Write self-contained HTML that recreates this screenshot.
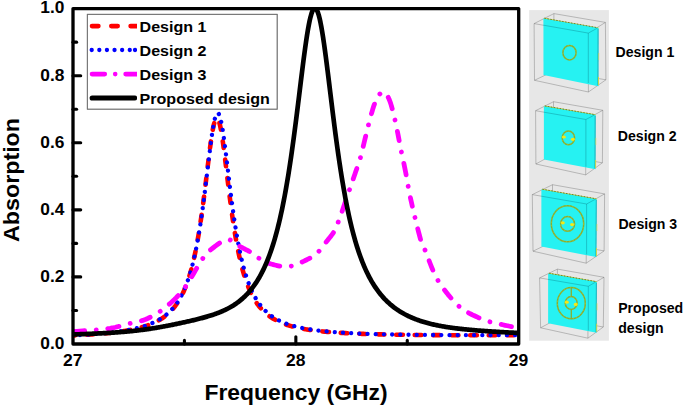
<!DOCTYPE html>
<html><head><meta charset="utf-8"><title>Absorption vs Frequency</title>
<style>
html,body{margin:0;padding:0;background:#fff;}
body{width:685px;height:405px;overflow:hidden;font-family:"Liberation Sans",sans-serif;}
svg{display:block;}
text{font-family:"Liberation Sans",sans-serif;font-weight:bold;fill:#000;}
.tk{font-size:17px;}
.lg{font-size:15.3px;}
.ax{font-size:22.5px;}
.rl{font-size:14.1px;}
</style></head><body>
<svg width="685" height="405" viewBox="0 0 685 405">
<rect width="685" height="405" fill="#fff"/>
<defs><clipPath id="pc"><rect x="73.0" y="8.6" width="445.70000000000005" height="335.4"/></clipPath></defs>
<!-- legend -->
<rect x="87.4" y="14.4" width="189.7" height="94.7" fill="#fff" stroke="#707070" stroke-width="1"/>
<g clip-path="url(#pc)" fill="none" stroke-linejoin="round">
<path d="M73.00 335.54 L73.50 335.51 L73.99 335.49 L74.49 335.46 L74.98 335.44 L75.48 335.41 L75.97 335.39 L76.47 335.36 L76.97 335.34 L77.46 335.31 L77.96 335.28 L78.45 335.26 L78.95 335.23 L79.45 335.20 L79.94 335.18 L80.44 335.15 L80.93 335.12 L81.43 335.09 L81.92 335.07 L82.42 335.04 L82.92 335.01 L83.41 334.98 L83.91 334.95 L84.40 334.92 L84.90 334.89 L85.39 334.86 L85.89 334.83 L86.39 334.80 L86.88 334.77 L87.38 334.74 L87.87 334.70 L88.37 334.67 L88.86 334.64 L89.36 334.61 L89.86 334.57 L90.35 334.54 L90.85 334.51 L91.34 334.47 L91.84 334.44 L92.34 334.40 L92.83 334.37 L93.33 334.33 L93.82 334.29 L94.32 334.26 L94.81 334.22 L95.31 334.18 L95.81 334.15 L96.30 334.11 L96.80 334.07 L97.29 334.03 L97.79 333.99 L98.28 333.95 L98.78 333.91 L99.28 333.87 L99.77 333.83 L100.27 333.79 L100.76 333.75 L101.26 333.70 L101.75 333.66 L102.25 333.62 L102.75 333.57 L103.24 333.53 L103.74 333.48 L104.23 333.44 L104.73 333.39 L105.23 333.34 L105.72 333.29 L106.22 333.25 L106.71 333.20 L107.21 333.15 L107.70 333.10 L108.20 333.05 L108.70 333.00 L109.19 332.95 L109.69 332.89 L110.18 332.84 L110.68 332.79 L111.17 332.73 L111.67 332.68 L112.17 332.62 L112.66 332.56 L113.16 332.51 L113.65 332.45 L114.15 332.39 L114.64 332.33 L115.14 332.27 L115.64 332.21 L116.13 332.15 L116.63 332.08 L117.12 332.02 L117.62 331.95 L118.12 331.89 L118.61 331.82 L119.11 331.75 L119.60 331.69 L120.10 331.62 L120.59 331.55 L121.09 331.47 L121.59 331.40 L122.08 331.33 L122.58 331.25 L123.07 331.18 L123.57 331.10 L124.06 331.02 L124.56 330.95 L125.06 330.87 L125.55 330.78 L126.05 330.70 L126.54 330.62 L127.04 330.53 L127.54 330.45 L128.03 330.36 L128.53 330.27 L129.02 330.18 L129.52 330.09 L130.01 329.99 L130.51 329.90 L131.01 329.80 L131.50 329.70 L132.00 329.60 L132.49 329.50 L132.99 329.40 L133.48 329.30 L133.98 329.19 L134.48 329.08 L134.97 328.97 L135.47 328.86 L135.96 328.75 L136.46 328.63 L136.95 328.51 L137.45 328.39 L137.95 328.27 L138.44 328.15 L138.94 328.02 L139.43 327.89 L139.93 327.76 L140.43 327.63 L140.92 327.50 L141.42 327.36 L141.91 327.22 L142.41 327.08 L142.90 326.93 L143.40 326.78 L143.90 326.63 L144.39 326.48 L144.89 326.32 L145.38 326.16 L145.88 326.00 L146.37 325.84 L146.87 325.67 L147.37 325.50 L147.86 325.32 L148.36 325.14 L148.85 324.96 L149.35 324.77 L149.84 324.58 L150.34 324.39 L150.84 324.19 L151.33 323.99 L151.83 323.79 L152.32 323.58 L152.82 323.36 L153.32 323.14 L153.81 322.92 L154.31 322.69 L154.80 322.46 L155.30 322.22 L155.79 321.98 L156.29 321.73 L156.79 321.47 L157.28 321.21 L157.78 320.95 L158.27 320.67 L158.77 320.40 L159.26 320.11 L159.76 319.82 L160.26 319.52 L160.75 319.22 L161.25 318.91 L161.74 318.59 L162.24 318.26 L162.73 317.93 L163.23 317.58 L163.73 317.23 L164.22 316.87 L164.72 316.51 L165.21 316.13 L165.71 315.74 L166.21 315.34 L166.70 314.94 L167.20 314.52 L167.69 314.09 L168.19 313.65 L168.68 313.20 L169.18 312.74 L169.68 312.26 L170.17 311.78 L170.67 311.27 L171.16 310.76 L171.66 310.23 L172.15 309.69 L172.65 309.13 L173.15 308.56 L173.64 307.96 L174.14 307.36 L174.63 306.73 L175.13 306.09 L175.63 305.43 L176.12 304.75 L176.62 304.05 L177.11 303.33 L177.61 302.59 L178.10 301.82 L178.60 301.03 L179.10 300.22 L179.59 299.38 L180.09 298.52 L180.58 297.63 L181.08 296.71 L181.57 295.77 L182.07 294.79 L182.57 293.78 L183.06 292.74 L183.56 291.67 L184.05 290.56 L184.55 289.41 L185.04 288.23 L185.54 287.01 L186.04 285.74 L186.53 284.44 L187.03 283.09 L187.52 281.70 L188.02 280.25 L188.52 278.76 L189.01 277.22 L189.51 275.63 L190.00 273.98 L190.50 272.27 L190.99 270.51 L191.49 268.68 L191.99 266.79 L192.48 264.84 L192.98 262.82 L193.47 260.73 L193.97 258.56 L194.46 256.33 L194.96 254.01 L195.46 251.62 L195.95 249.15 L196.45 246.60 L196.94 243.96 L197.44 241.23 L197.93 238.42 L198.43 235.52 L198.93 232.53 L199.42 229.45 L199.92 226.27 L200.41 223.01 L200.91 219.66 L201.41 216.21 L201.90 212.68 L202.40 209.06 L202.89 205.36 L203.39 201.59 L203.88 197.74 L204.38 193.82 L204.88 189.84 L205.37 185.82 L205.87 181.75 L206.36 177.66 L206.86 173.55 L207.35 169.43 L207.85 165.33 L208.35 161.27 L208.84 157.25 L209.34 153.30 L209.83 149.45 L210.33 145.71 L210.82 142.12 L211.32 138.68 L211.82 135.43 L212.31 132.40 L212.81 129.60 L213.30 127.05 L213.80 124.79 L214.30 122.83 L214.79 121.19 L215.29 119.89 L215.78 118.93 L216.28 118.33 L216.77 118.09 L217.27 118.21 L217.77 118.70 L218.26 119.54 L218.76 120.74 L219.25 122.27 L219.75 124.13 L220.24 126.29 L220.74 128.75 L221.24 131.46 L221.73 134.42 L222.23 137.61 L222.72 140.98 L223.22 144.53 L223.72 148.22 L224.21 152.03 L224.71 155.95 L225.20 159.94 L225.70 163.98 L226.19 168.07 L226.69 172.17 L227.19 176.28 L227.68 180.38 L228.18 184.45 L228.67 188.48 L229.17 192.47 L229.66 196.40 L230.16 200.26 L230.66 204.05 L231.15 207.77 L231.65 211.41 L232.14 214.96 L232.64 218.43 L233.13 221.80 L233.63 225.09 L234.13 228.28 L234.62 231.39 L235.12 234.40 L235.61 237.32 L236.11 240.15 L236.61 242.90 L237.10 245.56 L237.60 248.13 L238.09 250.62 L238.59 253.03 L239.08 255.36 L239.58 257.62 L240.08 259.80 L240.57 261.90 L241.07 263.94 L241.56 265.91 L242.06 267.81 L242.55 269.65 L243.05 271.43 L243.55 273.14 L244.04 274.80 L244.54 276.41 L245.03 277.96 L245.53 279.46 L246.02 280.91 L246.52 282.31 L247.02 283.67 L247.51 284.98 L248.01 286.25 L248.50 287.48 L249.00 288.67 L249.50 289.82 L249.99 290.93 L250.49 292.01 L250.98 293.06 L251.48 294.07 L251.97 295.05 L252.47 296.00 L252.97 296.92 L253.46 297.81 L253.96 298.68 L254.45 299.52 L254.95 300.33 L255.44 301.12 L255.94 301.88 L256.44 302.63 L256.93 303.35 L257.43 304.05 L257.92 304.73 L258.42 305.39 L258.91 306.03 L259.41 306.66 L259.91 307.26 L260.40 307.85 L260.90 308.43 L261.39 308.98 L261.89 309.52 L262.39 310.05 L262.88 310.56 L263.38 311.06 L263.87 311.55 L264.37 312.02 L264.86 312.48 L265.36 312.93 L265.86 313.37 L266.35 313.79 L266.85 314.21 L267.34 314.61 L267.84 315.01 L268.33 315.39 L268.83 315.77 L269.33 316.13 L269.82 316.49 L270.32 316.84 L270.81 317.17 L271.31 317.51 L271.81 317.83 L272.30 318.14 L272.80 318.45 L273.29 318.75 L273.79 319.05 L274.28 319.33 L274.78 319.61 L275.28 319.89 L275.77 320.16 L276.27 320.42 L276.76 320.67 L277.26 320.92 L277.75 321.17 L278.25 321.41 L278.75 321.64 L279.24 321.87 L279.74 322.09 L280.23 322.31 L280.73 322.53 L281.22 322.74 L281.72 322.94 L282.22 323.14 L282.71 323.34 L283.21 323.53 L283.70 323.72 L284.20 323.91 L284.70 324.09 L285.19 324.26 L285.69 324.44 L286.18 324.61 L286.68 324.78 L287.17 324.94 L287.67 325.10 L288.17 325.26 L288.66 325.41 L289.16 325.56 L289.65 325.71 L290.15 325.86 L290.64 326.00 L291.14 326.14 L291.64 326.28 L292.13 326.41 L292.63 326.54 L293.12 326.67 L293.62 326.80 L294.11 326.93 L294.61 327.05 L295.11 327.17 L295.60 327.29 L296.10 327.40 L296.59 327.52 L297.09 327.63 L297.59 327.74 L298.08 327.85 L298.58 327.95 L299.07 328.06 L299.57 328.16 L300.06 328.26 L300.56 328.36 L301.06 328.46 L301.55 328.55 L302.05 328.65 L302.54 328.74 L303.04 328.83 L303.53 328.92 L304.03 329.01 L304.53 329.09 L305.02 329.18 L305.52 329.26 L306.01 329.35 L306.51 329.43 L307.00 329.51 L307.50 329.58 L308.00 329.66 L308.49 329.74 L308.99 329.81 L309.48 329.89 L309.98 329.96 L310.48 330.03 L310.97 330.10 L311.47 330.17 L311.96 330.24 L312.46 330.30 L312.95 330.37 L313.45 330.43 L313.95 330.50 L314.44 330.56 L314.94 330.62 L315.43 330.68 L315.93 330.74 L316.42 330.80 L316.92 330.86 L317.42 330.92 L317.91 330.97 L318.41 331.03 L318.90 331.08 L319.40 331.14 L319.89 331.19 L320.39 331.24 L320.89 331.29 L321.38 331.34 L321.88 331.39 L322.37 331.44 L322.87 331.49 L323.37 331.54 L323.86 331.59 L324.36 331.64 L324.85 331.68 L325.35 331.73 L325.84 331.77 L326.34 331.82 L326.84 331.86 L327.33 331.90 L327.83 331.94 L328.32 331.99 L328.82 332.03 L329.31 332.07 L329.81 332.11 L330.31 332.15 L330.80 332.19 L331.30 332.22 L331.79 332.26 L332.29 332.30 L332.79 332.34 L333.28 332.37 L333.78 332.41 L334.27 332.44 L334.77 332.48 L335.26 332.51 L335.76 332.55 L336.26 332.58 L336.75 332.61 L337.25 332.65 L337.74 332.68 L338.24 332.71 L338.73 332.74 L339.23 332.77 L339.73 332.80 L340.22 332.83 L340.72 332.86 L341.21 332.89 L341.71 332.92 L342.20 332.95 L342.70 332.98 L343.20 333.01 L343.69 333.04 L344.19 333.06 L344.68 333.09 L345.18 333.12 L345.68 333.14 L346.17 333.17 L346.67 333.19 L347.16 333.22 L347.66 333.24 L348.15 333.27 L348.65 333.29 L349.15 333.32 L349.64 333.34 L350.14 333.37 L350.63 333.39 L351.13 333.41 L351.62 333.43 L352.12 333.46 L352.62 333.48 L353.11 333.50 L353.61 333.52 L354.10 333.54 L354.60 333.56 L355.09 333.58 L355.59 333.61 L356.09 333.63 L356.58 333.65 L357.08 333.67 L357.57 333.69 L358.07 333.70 L358.57 333.72 L359.06 333.74 L359.56 333.76 L360.05 333.78 L360.55 333.80 L361.04 333.82 L361.54 333.83 L362.04 333.85 L362.53 333.87 L363.03 333.89 L363.52 333.90 L364.02 333.92 L364.51 333.94 L365.01 333.95 L365.51 333.97 L366.00 333.99 L366.50 334.00 L366.99 334.02 L367.49 334.03 L367.98 334.05 L368.48 334.06 L368.98 334.08 L369.47 334.09 L369.97 334.11 L370.46 334.12 L370.96 334.14 L371.46 334.15 L371.95 334.16 L372.45 334.18 L372.94 334.19 L373.44 334.20 L373.93 334.22 L374.43 334.23 L374.93 334.24 L375.42 334.26 L375.92 334.27 L376.41 334.28 L376.91 334.29 L377.40 334.31 L377.90 334.32 L378.40 334.33 L378.89 334.34 L379.39 334.36 L379.88 334.37 L380.38 334.38 L380.88 334.39 L381.37 334.40 L381.87 334.41 L382.36 334.42 L382.86 334.43 L383.35 334.44 L383.85 334.46 L384.35 334.47 L384.84 334.48 L385.34 334.49 L385.83 334.50 L386.33 334.51 L386.82 334.52 L387.32 334.53 L387.82 334.54 L388.31 334.55 L388.81 334.56 L389.30 334.56 L389.80 334.57 L390.29 334.58 L390.79 334.59 L391.29 334.60 L391.78 334.61 L392.28 334.62 L392.77 334.63 L393.27 334.64 L393.77 334.64 L394.26 334.65 L394.76 334.66 L395.25 334.67 L395.75 334.68 L396.24 334.69 L396.74 334.69 L397.24 334.70 L397.73 334.71 L398.23 334.72 L398.72 334.72 L399.22 334.73 L399.71 334.74 L400.21 334.75 L400.71 334.75 L401.20 334.76 L401.70 334.77 L402.19 334.78 L402.69 334.78 L403.18 334.79 L403.68 334.80 L404.18 334.80 L404.67 334.81 L405.17 334.82 L405.66 334.82 L406.16 334.83 L406.66 334.83 L407.15 334.84 L407.65 334.85 L408.14 334.85 L408.64 334.86 L409.13 334.87 L409.63 334.87 L410.13 334.88 L410.62 334.88 L411.12 334.89 L411.61 334.89 L412.11 334.90 L412.60 334.91 L413.10 334.91 L413.60 334.92 L414.09 334.92 L414.59 334.93 L415.08 334.93 L415.58 334.94 L416.07 334.94 L416.57 334.95 L417.07 334.95 L417.56 334.96 L418.06 334.96 L418.55 334.97 L419.05 334.97 L419.55 334.98 L420.04 334.98 L420.54 334.99 L421.03 334.99 L421.53 334.99 L422.02 335.00 L422.52 335.00 L423.02 335.01 L423.51 335.01 L424.01 335.02 L424.50 335.02 L425.00 335.02 L425.49 335.03 L425.99 335.03 L426.49 335.04 L426.98 335.04 L427.48 335.04 L427.97 335.05 L428.47 335.05 L428.97 335.05 L429.46 335.06 L429.96 335.06 L430.45 335.07 L430.95 335.07 L431.44 335.07 L431.94 335.08 L432.44 335.08 L432.93 335.08 L433.43 335.09 L433.92 335.09 L434.42 335.09 L434.91 335.10 L435.41 335.10 L435.91 335.10 L436.40 335.11 L436.90 335.11 L437.39 335.11 L437.89 335.11 L438.38 335.12 L438.88 335.12 L439.38 335.12 L439.87 335.13 L440.37 335.13 L440.86 335.13 L441.36 335.13 L441.86 335.14 L442.35 335.14 L442.85 335.14 L443.34 335.14 L443.84 335.15 L444.33 335.15 L444.83 335.15 L445.33 335.15 L445.82 335.16 L446.32 335.16 L446.81 335.16 L447.31 335.16 L447.80 335.16 L448.30 335.17 L448.80 335.17 L449.29 335.17 L449.79 335.17 L450.28 335.18 L450.78 335.18 L451.27 335.18 L451.77 335.18 L452.27 335.18 L452.76 335.19 L453.26 335.19 L453.75 335.19 L454.25 335.19 L454.75 335.19 L455.24 335.19 L455.74 335.20 L456.23 335.20 L456.73 335.20 L457.22 335.20 L457.72 335.20 L458.22 335.20 L458.71 335.21 L459.21 335.21 L459.70 335.21 L460.20 335.21 L460.69 335.21 L461.19 335.21 L461.69 335.21 L462.18 335.22 L462.68 335.22 L463.17 335.22 L463.67 335.22 L464.16 335.22 L464.66 335.22 L465.16 335.22 L465.65 335.22 L466.15 335.23 L466.64 335.23 L467.14 335.23 L467.64 335.23 L468.13 335.23 L468.63 335.23 L469.12 335.23 L469.62 335.23 L470.11 335.23 L470.61 335.23 L471.11 335.24 L471.60 335.24 L472.10 335.24 L472.59 335.24 L473.09 335.24 L473.58 335.24 L474.08 335.24 L474.58 335.24 L475.07 335.24 L475.57 335.24 L476.06 335.24 L476.56 335.24 L477.06 335.24 L477.55 335.25 L478.05 335.25 L478.54 335.25 L479.04 335.25 L479.53 335.25 L480.03 335.25 L480.53 335.25 L481.02 335.25 L481.52 335.25 L482.01 335.25 L482.51 335.25 L483.00 335.25 L483.50 335.25 L484.00 335.25 L484.49 335.25 L484.99 335.25 L485.48 335.25 L485.98 335.25 L486.47 335.25 L486.97 335.25 L487.47 335.25 L487.96 335.25 L488.46 335.25 L488.95 335.25 L489.45 335.25 L489.95 335.26 L490.44 335.26 L490.94 335.26 L491.43 335.26 L491.93 335.26 L492.42 335.26 L492.92 335.26 L493.42 335.26 L493.91 335.26 L494.41 335.26 L494.90 335.26 L495.40 335.26 L495.89 335.26 L496.39 335.26 L496.89 335.26 L497.38 335.26 L497.88 335.26 L498.37 335.26 L498.87 335.26 L499.36 335.26 L499.86 335.25 L500.36 335.25 L500.85 335.25 L501.35 335.25 L501.84 335.25 L502.34 335.25 L502.84 335.25 L503.33 335.25 L503.83 335.25 L504.32 335.25 L504.82 335.25 L505.31 335.25 L505.81 335.25 L506.31 335.25 L506.80 335.25 L507.30 335.25 L507.79 335.25 L508.29 335.25 L508.78 335.25 L509.28 335.25 L509.78 335.25 L510.27 335.25 L510.77 335.25 L511.26 335.25 L511.76 335.25 L512.25 335.25 L512.75 335.25 L513.25 335.25 L513.74 335.25 L514.24 335.24 L514.73 335.24 L515.23 335.24 L515.73 335.24 L516.22 335.24 L516.72 335.24 L517.21 335.24 L517.71 335.24 L518.20 335.24 L518.70 335.24" stroke="#ff0000" stroke-width="4.6" stroke-dasharray="6.7 11.8" stroke-dashoffset="4.61" stroke-linecap="round"/>
<path d="M73.00 335.40 L73.50 335.37 L73.99 335.35 L74.49 335.32 L74.98 335.29 L75.48 335.27 L75.97 335.24 L76.47 335.22 L76.97 335.19 L77.46 335.16 L77.96 335.14 L78.45 335.11 L78.95 335.08 L79.45 335.05 L79.94 335.02 L80.44 335.00 L80.93 334.97 L81.43 334.94 L81.92 334.91 L82.42 334.88 L82.92 334.85 L83.41 334.82 L83.91 334.79 L84.40 334.76 L84.90 334.73 L85.39 334.70 L85.89 334.66 L86.39 334.63 L86.88 334.60 L87.38 334.57 L87.87 334.54 L88.37 334.50 L88.86 334.47 L89.36 334.43 L89.86 334.40 L90.35 334.37 L90.85 334.33 L91.34 334.30 L91.84 334.26 L92.34 334.22 L92.83 334.19 L93.33 334.15 L93.82 334.11 L94.32 334.07 L94.81 334.04 L95.31 334.00 L95.81 333.96 L96.30 333.92 L96.80 333.88 L97.29 333.84 L97.79 333.80 L98.28 333.76 L98.78 333.72 L99.28 333.67 L99.77 333.63 L100.27 333.59 L100.76 333.55 L101.26 333.50 L101.75 333.46 L102.25 333.41 L102.75 333.37 L103.24 333.32 L103.74 333.27 L104.23 333.23 L104.73 333.18 L105.23 333.13 L105.72 333.08 L106.22 333.03 L106.71 332.98 L107.21 332.93 L107.70 332.88 L108.20 332.83 L108.70 332.77 L109.19 332.72 L109.69 332.67 L110.18 332.61 L110.68 332.56 L111.17 332.50 L111.67 332.44 L112.17 332.39 L112.66 332.33 L113.16 332.27 L113.65 332.21 L114.15 332.15 L114.64 332.09 L115.14 332.02 L115.64 331.96 L116.13 331.90 L116.63 331.83 L117.12 331.77 L117.62 331.70 L118.12 331.63 L118.61 331.56 L119.11 331.49 L119.60 331.42 L120.10 331.35 L120.59 331.28 L121.09 331.21 L121.59 331.13 L122.08 331.06 L122.58 330.98 L123.07 330.90 L123.57 330.82 L124.06 330.74 L124.56 330.66 L125.06 330.58 L125.55 330.50 L126.05 330.41 L126.54 330.32 L127.04 330.24 L127.54 330.15 L128.03 330.06 L128.53 329.97 L129.02 329.87 L129.52 329.78 L130.01 329.68 L130.51 329.59 L131.01 329.49 L131.50 329.39 L132.00 329.28 L132.49 329.18 L132.99 329.08 L133.48 328.97 L133.98 328.86 L134.48 328.75 L134.97 328.64 L135.47 328.52 L135.96 328.41 L136.46 328.29 L136.95 328.17 L137.45 328.05 L137.95 327.92 L138.44 327.79 L138.94 327.67 L139.43 327.53 L139.93 327.40 L140.43 327.27 L140.92 327.13 L141.42 326.99 L141.91 326.84 L142.41 326.70 L142.90 326.55 L143.40 326.40 L143.90 326.25 L144.39 326.09 L144.89 325.93 L145.38 325.77 L145.88 325.60 L146.37 325.43 L146.87 325.26 L147.37 325.08 L147.86 324.91 L148.36 324.72 L148.85 324.54 L149.35 324.35 L149.84 324.16 L150.34 323.96 L150.84 323.76 L151.33 323.55 L151.83 323.34 L152.32 323.13 L152.82 322.91 L153.32 322.69 L153.81 322.46 L154.31 322.23 L154.80 321.99 L155.30 321.75 L155.79 321.50 L156.29 321.25 L156.79 320.99 L157.28 320.73 L157.78 320.46 L158.27 320.19 L158.77 319.90 L159.26 319.62 L159.76 319.32 L160.26 319.02 L160.75 318.71 L161.25 318.40 L161.74 318.07 L162.24 317.74 L162.73 317.41 L163.23 317.06 L163.73 316.71 L164.22 316.34 L164.72 315.97 L165.21 315.59 L165.71 315.20 L166.21 314.80 L166.70 314.39 L167.20 313.97 L167.69 313.54 L168.19 313.10 L168.68 312.64 L169.18 312.18 L169.68 311.70 L170.17 311.21 L170.67 310.71 L171.16 310.19 L171.66 309.66 L172.15 309.12 L172.65 308.56 L173.15 307.98 L173.64 307.39 L174.14 306.79 L174.63 306.16 L175.13 305.52 L175.63 304.86 L176.12 304.18 L176.62 303.48 L177.11 302.76 L177.61 302.02 L178.10 301.26 L178.60 300.48 L179.10 299.67 L179.59 298.84 L180.09 297.98 L180.58 297.10 L181.08 296.18 L181.57 295.25 L182.07 294.28 L182.57 293.28 L183.06 292.25 L183.56 291.18 L184.05 290.09 L184.55 288.96 L185.04 287.79 L185.54 286.58 L186.04 285.34 L186.53 284.05 L187.03 282.72 L187.52 281.35 L188.02 279.93 L188.52 278.46 L189.01 276.95 L189.51 275.38 L190.00 273.76 L190.50 272.09 L190.99 270.36 L191.49 268.57 L191.99 266.72 L192.48 264.81 L192.98 262.83 L193.47 260.79 L193.97 258.68 L194.46 256.49 L194.96 254.23 L195.46 251.90 L195.95 249.49 L196.45 247.00 L196.94 244.42 L197.44 241.77 L197.93 239.03 L198.43 236.20 L198.93 233.28 L199.42 230.28 L199.92 227.18 L200.41 224.00 L200.91 220.73 L201.41 217.36 L201.90 213.91 L202.40 210.37 L202.89 206.74 L203.39 203.04 L203.88 199.25 L204.38 195.39 L204.88 191.47 L205.37 187.48 L205.87 183.44 L206.36 179.36 L206.86 175.25 L207.35 171.12 L207.85 166.98 L208.35 162.85 L208.84 158.75 L209.34 154.68 L209.83 150.68 L210.33 146.77 L210.82 142.96 L211.32 139.27 L211.82 135.74 L212.31 132.38 L212.81 129.21 L213.30 126.27 L213.80 123.58 L214.30 121.15 L214.79 119.00 L215.29 117.17 L215.78 115.65 L216.28 114.47 L216.77 113.64 L217.27 113.17 L217.77 113.05 L218.26 113.29 L218.76 113.90 L219.25 114.85 L219.75 116.15 L220.24 117.78 L220.74 119.72 L221.24 121.97 L221.73 124.49 L222.23 127.28 L222.72 130.30 L223.22 133.53 L223.72 136.95 L224.21 140.54 L224.71 144.26 L225.20 148.11 L225.70 152.06 L226.19 156.07 L226.69 160.15 L227.19 164.26 L227.68 168.39 L228.18 172.52 L228.67 176.64 L229.17 180.74 L229.66 184.80 L230.16 188.81 L230.66 192.77 L231.15 196.66 L231.65 200.49 L232.14 204.24 L232.64 207.91 L233.13 211.50 L233.63 215.00 L234.13 218.42 L234.62 221.74 L235.12 224.98 L235.61 228.12 L236.11 231.18 L236.61 234.14 L237.10 237.02 L237.60 239.81 L238.09 242.51 L238.59 245.13 L239.08 247.67 L239.58 250.12 L240.08 252.50 L240.57 254.80 L241.07 257.02 L241.56 259.18 L242.06 261.26 L242.55 263.27 L243.05 265.22 L243.55 267.10 L244.04 268.92 L244.54 270.68 L245.03 272.38 L245.53 274.03 L246.02 275.62 L246.52 277.17 L247.02 278.66 L247.51 280.10 L248.01 281.49 L248.50 282.84 L249.00 284.15 L249.50 285.42 L249.99 286.64 L250.49 287.83 L250.98 288.98 L251.48 290.09 L251.97 291.17 L252.47 292.21 L252.97 293.23 L253.46 294.21 L253.96 295.16 L254.45 296.08 L254.95 296.98 L255.44 297.84 L255.94 298.69 L256.44 299.50 L256.93 300.30 L257.43 301.07 L257.92 301.81 L258.42 302.54 L258.91 303.25 L259.41 303.93 L259.91 304.60 L260.40 305.24 L260.90 305.87 L261.39 306.49 L261.89 307.08 L262.39 307.66 L262.88 308.22 L263.38 308.77 L263.87 309.30 L264.37 309.82 L264.86 310.33 L265.36 310.82 L265.86 311.30 L266.35 311.77 L266.85 312.22 L267.34 312.66 L267.84 313.10 L268.33 313.52 L268.83 313.93 L269.33 314.33 L269.82 314.72 L270.32 315.10 L270.81 315.47 L271.31 315.83 L271.81 316.19 L272.30 316.53 L272.80 316.87 L273.29 317.20 L273.79 317.52 L274.28 317.83 L274.78 318.14 L275.28 318.44 L275.77 318.73 L276.27 319.02 L276.76 319.30 L277.26 319.57 L277.75 319.84 L278.25 320.10 L278.75 320.35 L279.24 320.60 L279.74 320.85 L280.23 321.09 L280.73 321.32 L281.22 321.55 L281.72 321.78 L282.22 322.00 L282.71 322.21 L283.21 322.42 L283.70 322.63 L284.20 322.83 L284.70 323.03 L285.19 323.22 L285.69 323.41 L286.18 323.59 L286.68 323.78 L287.17 323.95 L287.67 324.13 L288.17 324.30 L288.66 324.47 L289.16 324.63 L289.65 324.80 L290.15 324.95 L290.64 325.11 L291.14 325.26 L291.64 325.41 L292.13 325.56 L292.63 325.70 L293.12 325.84 L293.62 325.98 L294.11 326.12 L294.61 326.25 L295.11 326.38 L295.60 326.51 L296.10 326.64 L296.59 326.76 L297.09 326.88 L297.59 327.00 L298.08 327.12 L298.58 327.24 L299.07 327.35 L299.57 327.46 L300.06 327.57 L300.56 327.68 L301.06 327.79 L301.55 327.89 L302.05 327.99 L302.54 328.09 L303.04 328.19 L303.53 328.29 L304.03 328.38 L304.53 328.48 L305.02 328.57 L305.52 328.66 L306.01 328.75 L306.51 328.84 L307.00 328.93 L307.50 329.01 L308.00 329.09 L308.49 329.18 L308.99 329.26 L309.48 329.34 L309.98 329.42 L310.48 329.49 L310.97 329.57 L311.47 329.64 L311.96 329.72 L312.46 329.79 L312.95 329.86 L313.45 329.93 L313.95 330.00 L314.44 330.07 L314.94 330.14 L315.43 330.20 L315.93 330.27 L316.42 330.33 L316.92 330.39 L317.42 330.46 L317.91 330.52 L318.41 330.58 L318.90 330.64 L319.40 330.70 L319.89 330.75 L320.39 330.81 L320.89 330.87 L321.38 330.92 L321.88 330.98 L322.37 331.03 L322.87 331.08 L323.37 331.13 L323.86 331.19 L324.36 331.24 L324.85 331.29 L325.35 331.34 L325.84 331.38 L326.34 331.43 L326.84 331.48 L327.33 331.53 L327.83 331.57 L328.32 331.62 L328.82 331.66 L329.31 331.71 L329.81 331.75 L330.31 331.79 L330.80 331.83 L331.30 331.88 L331.79 331.92 L332.29 331.96 L332.79 332.00 L333.28 332.04 L333.78 332.08 L334.27 332.11 L334.77 332.15 L335.26 332.19 L335.76 332.23 L336.26 332.26 L336.75 332.30 L337.25 332.33 L337.74 332.37 L338.24 332.40 L338.73 332.44 L339.23 332.47 L339.73 332.50 L340.22 332.54 L340.72 332.57 L341.21 332.60 L341.71 332.63 L342.20 332.66 L342.70 332.69 L343.20 332.73 L343.69 332.76 L344.19 332.78 L344.68 332.81 L345.18 332.84 L345.68 332.87 L346.17 332.90 L346.67 332.93 L347.16 332.96 L347.66 332.98 L348.15 333.01 L348.65 333.04 L349.15 333.06 L349.64 333.09 L350.14 333.11 L350.63 333.14 L351.13 333.16 L351.62 333.19 L352.12 333.21 L352.62 333.24 L353.11 333.26 L353.61 333.28 L354.10 333.31 L354.60 333.33 L355.09 333.35 L355.59 333.37 L356.09 333.40 L356.58 333.42 L357.08 333.44 L357.57 333.46 L358.07 333.48 L358.57 333.50 L359.06 333.52 L359.56 333.54 L360.05 333.56 L360.55 333.58 L361.04 333.60 L361.54 333.62 L362.04 333.64 L362.53 333.66 L363.03 333.68 L363.52 333.70 L364.02 333.72 L364.51 333.73 L365.01 333.75 L365.51 333.77 L366.00 333.79 L366.50 333.80 L366.99 333.82 L367.49 333.84 L367.98 333.85 L368.48 333.87 L368.98 333.89 L369.47 333.90 L369.97 333.92 L370.46 333.94 L370.96 333.95 L371.46 333.97 L371.95 333.98 L372.45 334.00 L372.94 334.01 L373.44 334.03 L373.93 334.04 L374.43 334.05 L374.93 334.07 L375.42 334.08 L375.92 334.10 L376.41 334.11 L376.91 334.12 L377.40 334.14 L377.90 334.15 L378.40 334.16 L378.89 334.18 L379.39 334.19 L379.88 334.20 L380.38 334.22 L380.88 334.23 L381.37 334.24 L381.87 334.25 L382.36 334.26 L382.86 334.28 L383.35 334.29 L383.85 334.30 L384.35 334.31 L384.84 334.32 L385.34 334.33 L385.83 334.34 L386.33 334.36 L386.82 334.37 L387.32 334.38 L387.82 334.39 L388.31 334.40 L388.81 334.41 L389.30 334.42 L389.80 334.43 L390.29 334.44 L390.79 334.45 L391.29 334.46 L391.78 334.47 L392.28 334.48 L392.77 334.49 L393.27 334.50 L393.77 334.51 L394.26 334.52 L394.76 334.52 L395.25 334.53 L395.75 334.54 L396.24 334.55 L396.74 334.56 L397.24 334.57 L397.73 334.58 L398.23 334.59 L398.72 334.59 L399.22 334.60 L399.71 334.61 L400.21 334.62 L400.71 334.63 L401.20 334.63 L401.70 334.64 L402.19 334.65 L402.69 334.66 L403.18 334.67 L403.68 334.67 L404.18 334.68 L404.67 334.69 L405.17 334.69 L405.66 334.70 L406.16 334.71 L406.66 334.72 L407.15 334.72 L407.65 334.73 L408.14 334.74 L408.64 334.74 L409.13 334.75 L409.63 334.76 L410.13 334.76 L410.62 334.77 L411.12 334.78 L411.61 334.78 L412.11 334.79 L412.60 334.79 L413.10 334.80 L413.60 334.81 L414.09 334.81 L414.59 334.82 L415.08 334.82 L415.58 334.83 L416.07 334.83 L416.57 334.84 L417.07 334.85 L417.56 334.85 L418.06 334.86 L418.55 334.86 L419.05 334.87 L419.55 334.87 L420.04 334.88 L420.54 334.88 L421.03 334.89 L421.53 334.89 L422.02 334.90 L422.52 334.90 L423.02 334.91 L423.51 334.91 L424.01 334.92 L424.50 334.92 L425.00 334.93 L425.49 334.93 L425.99 334.93 L426.49 334.94 L426.98 334.94 L427.48 334.95 L427.97 334.95 L428.47 334.96 L428.97 334.96 L429.46 334.96 L429.96 334.97 L430.45 334.97 L430.95 334.98 L431.44 334.98 L431.94 334.98 L432.44 334.99 L432.93 334.99 L433.43 335.00 L433.92 335.00 L434.42 335.00 L434.91 335.01 L435.41 335.01 L435.91 335.01 L436.40 335.02 L436.90 335.02 L437.39 335.02 L437.89 335.03 L438.38 335.03 L438.88 335.03 L439.38 335.04 L439.87 335.04 L440.37 335.04 L440.86 335.05 L441.36 335.05 L441.86 335.05 L442.35 335.06 L442.85 335.06 L443.34 335.06 L443.84 335.06 L444.33 335.07 L444.83 335.07 L445.33 335.07 L445.82 335.08 L446.32 335.08 L446.81 335.08 L447.31 335.08 L447.80 335.09 L448.30 335.09 L448.80 335.09 L449.29 335.09 L449.79 335.10 L450.28 335.10 L450.78 335.10 L451.27 335.10 L451.77 335.11 L452.27 335.11 L452.76 335.11 L453.26 335.11 L453.75 335.11 L454.25 335.12 L454.75 335.12 L455.24 335.12 L455.74 335.12 L456.23 335.12 L456.73 335.13 L457.22 335.13 L457.72 335.13 L458.22 335.13 L458.71 335.13 L459.21 335.14 L459.70 335.14 L460.20 335.14 L460.69 335.14 L461.19 335.14 L461.69 335.14 L462.18 335.15 L462.68 335.15 L463.17 335.15 L463.67 335.15 L464.16 335.15 L464.66 335.15 L465.16 335.16 L465.65 335.16 L466.15 335.16 L466.64 335.16 L467.14 335.16 L467.64 335.16 L468.13 335.16 L468.63 335.17 L469.12 335.17 L469.62 335.17 L470.11 335.17 L470.61 335.17 L471.11 335.17 L471.60 335.17 L472.10 335.17 L472.59 335.17 L473.09 335.18 L473.58 335.18 L474.08 335.18 L474.58 335.18 L475.07 335.18 L475.57 335.18 L476.06 335.18 L476.56 335.18 L477.06 335.18 L477.55 335.18 L478.05 335.19 L478.54 335.19 L479.04 335.19 L479.53 335.19 L480.03 335.19 L480.53 335.19 L481.02 335.19 L481.52 335.19 L482.01 335.19 L482.51 335.19 L483.00 335.19 L483.50 335.19 L484.00 335.19 L484.49 335.19 L484.99 335.20 L485.48 335.20 L485.98 335.20 L486.47 335.20 L486.97 335.20 L487.47 335.20 L487.96 335.20 L488.46 335.20 L488.95 335.20 L489.45 335.20 L489.95 335.20 L490.44 335.20 L490.94 335.20 L491.43 335.20 L491.93 335.20 L492.42 335.20 L492.92 335.20 L493.42 335.20 L493.91 335.20 L494.41 335.20 L494.90 335.20 L495.40 335.20 L495.89 335.20 L496.39 335.20 L496.89 335.20 L497.38 335.20 L497.88 335.20 L498.37 335.20 L498.87 335.20 L499.36 335.20 L499.86 335.20 L500.36 335.20 L500.85 335.20 L501.35 335.20 L501.84 335.20 L502.34 335.20 L502.84 335.20 L503.33 335.20 L503.83 335.20 L504.32 335.20 L504.82 335.20 L505.31 335.20 L505.81 335.20 L506.31 335.20 L506.80 335.20 L507.30 335.20 L507.79 335.20 L508.29 335.20 L508.78 335.20 L509.28 335.20 L509.78 335.20 L510.27 335.20 L510.77 335.20 L511.26 335.20 L511.76 335.20 L512.25 335.20 L512.75 335.20 L513.25 335.20 L513.74 335.20 L514.24 335.20 L514.73 335.20 L515.23 335.20 L515.73 335.20 L516.22 335.20 L516.72 335.20 L517.21 335.20 L517.71 335.20 L518.20 335.19 L518.70 335.19" stroke="#0000ff" stroke-width="4.3" stroke-dasharray="0.01 8.19" stroke-dashoffset="1.24" stroke-linecap="round"/>
<path d="M73.00 331.60 L74.74 331.46 L76.99 331.29 L79.66 331.10 L82.67 330.88 L85.91 330.64 L89.31 330.38 L92.78 330.11 L96.22 329.82 L99.55 329.53 L102.69 329.22 L105.53 328.91 L108.00 328.60 L110.14 328.28 L112.09 327.94 L113.88 327.59 L115.52 327.23 L117.05 326.85 L118.50 326.47 L119.89 326.08 L121.26 325.69 L122.62 325.29 L124.02 324.89 L125.47 324.49 L127.00 324.10 L128.58 323.73 L130.17 323.38 L131.75 323.06 L133.34 322.74 L134.92 322.42 L136.51 322.08 L138.09 321.72 L139.67 321.33 L141.26 320.89 L142.84 320.40 L144.42 319.84 L146.00 319.20 L147.58 318.50 L149.15 317.76 L150.73 316.99 L152.30 316.16 L153.88 315.30 L155.45 314.38 L157.02 313.42 L158.60 312.40 L160.17 311.34 L161.75 310.22 L163.32 309.04 L164.90 307.80 L166.48 306.52 L168.06 305.20 L169.65 303.85 L171.23 302.45 L172.81 300.99 L174.40 299.48 L175.99 297.90 L177.57 296.25 L179.15 294.52 L180.74 292.71 L182.32 290.80 L183.90 288.80 L185.50 286.61 L187.14 284.19 L188.81 281.58 L190.49 278.84 L192.16 276.02 L193.82 273.18 L195.46 270.36 L197.06 267.63 L198.60 265.02 L200.09 262.59 L201.49 260.40 L202.80 258.50 L204.01 256.87 L205.11 255.45 L206.13 254.21 L207.09 253.13 L207.99 252.17 L208.85 251.32 L209.70 250.56 L210.54 249.84 L211.39 249.15 L212.28 248.47 L213.21 247.76 L214.20 247.00 L215.25 246.19 L216.34 245.36 L217.46 244.53 L218.60 243.71 L219.75 242.91 L220.91 242.16 L222.07 241.47 L223.21 240.86 L224.33 240.34 L225.43 239.93 L226.49 239.64 L227.50 239.50 L228.46 239.52 L229.37 239.70 L230.24 240.01 L231.08 240.43 L231.90 240.95 L232.71 241.54 L233.52 242.19 L234.34 242.86 L235.18 243.53 L236.04 244.20 L236.95 244.83 L237.90 245.40 L238.91 245.95 L239.99 246.52 L241.11 247.10 L242.26 247.70 L243.43 248.30 L244.61 248.91 L245.77 249.51 L246.92 250.11 L248.03 250.71 L249.09 251.29 L250.08 251.86 L251.00 252.40 L251.84 252.93 L252.61 253.45 L253.32 253.96 L253.99 254.46 L254.61 254.96 L255.22 255.44 L255.81 255.92 L256.39 256.39 L256.98 256.86 L257.59 257.31 L258.23 257.76 L258.90 258.20 L259.59 258.63 L260.25 259.06 L260.91 259.48 L261.57 259.89 L262.24 260.30 L262.92 260.69 L263.62 261.08 L264.35 261.46 L265.11 261.84 L265.92 262.20 L266.78 262.55 L267.70 262.90 L268.70 263.25 L269.78 263.60 L270.94 263.95 L272.14 264.30 L273.39 264.64 L274.65 264.96 L275.92 265.27 L277.17 265.56 L278.39 265.82 L279.56 266.05 L280.67 266.25 L281.70 266.40 L282.66 266.52 L283.57 266.60 L284.43 266.66 L285.26 266.69 L286.06 266.69 L286.83 266.67 L287.59 266.62 L288.33 266.56 L289.07 266.47 L289.80 266.36 L290.55 266.24 L291.30 266.10 L292.05 265.94 L292.76 265.77 L293.45 265.57 L294.13 265.36 L294.81 265.12 L295.48 264.86 L296.17 264.59 L296.87 264.29 L297.59 263.97 L298.35 263.63 L299.15 263.28 L300.00 262.90 L300.92 262.49 L301.91 262.05 L302.95 261.57 L304.04 261.06 L305.15 260.54 L306.28 260.00 L307.39 259.45 L308.48 258.90 L309.53 258.36 L310.53 257.82 L311.46 257.30 L312.30 256.80 L313.05 256.33 L313.73 255.88 L314.35 255.45 L314.93 255.03 L315.46 254.62 L315.96 254.20 L316.45 253.77 L316.93 253.32 L317.41 252.85 L317.91 252.34 L318.44 251.79 L319.00 251.20 L319.59 250.56 L320.18 249.88 L320.77 249.16 L321.37 248.42 L321.97 247.65 L322.57 246.86 L323.19 246.05 L323.80 245.23 L324.42 244.40 L325.04 243.56 L325.67 242.73 L326.30 241.90 L326.95 241.06 L327.63 240.21 L328.32 239.33 L329.03 238.44 L329.75 237.55 L330.46 236.65 L331.15 235.75 L331.83 234.86 L332.49 233.97 L333.10 233.09 L333.68 232.24 L334.20 231.40 L334.66 230.62 L335.05 229.93 L335.39 229.29 L335.68 228.69 L335.95 228.09 L336.21 227.47 L336.46 226.82 L336.73 226.10 L337.02 225.30 L337.36 224.38 L337.75 223.32 L338.20 222.10 L338.71 220.73 L339.25 219.25 L339.82 217.66 L340.43 215.97 L341.05 214.20 L341.71 212.34 L342.38 210.42 L343.07 208.43 L343.79 206.38 L344.51 204.29 L345.25 202.16 L346.00 200.00 L346.79 197.71 L347.65 195.23 L348.56 192.59 L349.50 189.84 L350.46 187.05 L351.42 184.24 L352.36 181.48 L353.28 178.81 L354.14 176.28 L354.95 173.93 L355.67 171.82 L356.30 170.00 L356.81 168.57 L357.20 167.53 L357.50 166.82 L357.72 166.33 L357.90 165.99 L358.06 165.69 L358.21 165.35 L358.39 164.89 L358.61 164.21 L358.91 163.23 L359.30 161.86 L359.80 160.00 L360.43 157.60 L361.16 154.70 L361.98 151.40 L362.86 147.80 L363.79 143.97 L364.74 140.03 L365.71 136.06 L366.66 132.15 L367.59 128.39 L368.47 124.89 L369.28 121.73 L370.00 119.00 L370.64 116.64 L371.23 114.50 L371.78 112.56 L372.29 110.80 L372.76 109.19 L373.22 107.72 L373.66 106.36 L374.10 105.09 L374.55 103.89 L375.01 102.74 L375.49 101.62 L376.00 100.50 L376.54 99.39 L377.08 98.33 L377.64 97.31 L378.20 96.35 L378.76 95.46 L379.33 94.66 L379.90 93.94 L380.47 93.31 L381.04 92.80 L381.60 92.40 L382.15 92.13 L382.70 92.00 L383.24 92.00 L383.78 92.11 L384.31 92.33 L384.84 92.67 L385.37 93.11 L385.89 93.66 L386.42 94.31 L386.94 95.06 L387.46 95.90 L387.97 96.84 L388.49 97.88 L389.00 99.00 L389.51 100.23 L390.02 101.59 L390.52 103.05 L391.02 104.63 L391.52 106.30 L392.02 108.06 L392.52 109.90 L393.01 111.81 L393.51 113.79 L394.00 115.82 L394.50 117.89 L395.00 120.00 L395.51 122.22 L396.02 124.59 L396.54 127.10 L397.07 129.70 L397.59 132.37 L398.11 135.06 L398.63 137.75 L399.13 140.41 L399.63 142.99 L400.10 145.47 L400.56 147.82 L401.00 150.00 L401.41 151.98 L401.79 153.80 L402.14 155.47 L402.48 157.04 L402.80 158.54 L403.12 160.00 L403.43 161.46 L403.76 162.96 L404.09 164.53 L404.43 166.20 L404.80 168.02 L405.20 170.00 L405.61 172.12 L406.02 174.31 L406.42 176.56 L406.84 178.89 L407.26 181.28 L407.70 183.75 L408.16 186.28 L408.64 188.89 L409.15 191.56 L409.70 194.31 L410.28 197.12 L410.90 200.00 L411.59 203.08 L412.36 206.44 L413.19 210.00 L414.07 213.70 L414.97 217.48 L415.89 221.25 L416.80 224.95 L417.69 228.52 L418.54 231.88 L419.34 234.95 L420.06 237.69 L420.70 240.00 L421.22 241.82 L421.63 243.17 L421.96 244.13 L422.22 244.80 L422.44 245.26 L422.65 245.59 L422.87 245.90 L423.13 246.26 L423.44 246.76 L423.84 247.49 L424.35 248.54 L425.00 250.00 L425.75 251.84 L426.57 253.95 L427.45 256.29 L428.39 258.82 L429.39 261.49 L430.46 264.26 L431.58 267.09 L432.75 269.92 L433.98 272.72 L435.27 275.45 L436.61 278.06 L438.00 280.50 L439.47 282.86 L441.05 285.24 L442.72 287.62 L444.45 289.98 L446.24 292.31 L448.07 294.59 L449.93 296.80 L451.79 298.93 L453.65 300.97 L455.48 302.88 L457.27 304.67 L459.00 306.30 L460.72 307.78 L462.47 309.13 L464.24 310.36 L466.01 311.47 L467.78 312.49 L469.52 313.41 L471.23 314.26 L472.89 315.05 L474.49 315.79 L476.02 316.48 L477.46 317.15 L478.80 317.80 L479.99 318.39 L481.00 318.88 L481.87 319.29 L482.64 319.63 L483.35 319.92 L484.04 320.18 L484.75 320.41 L485.51 320.63 L486.37 320.87 L487.36 321.13 L488.53 321.44 L489.90 321.80 L491.55 322.22 L493.47 322.69 L495.60 323.18 L497.89 323.70 L500.27 324.23 L502.69 324.76 L505.08 325.28 L507.39 325.77 L509.55 326.23 L511.52 326.65 L513.22 327.01 L514.60 327.30 L515.68 327.52 L516.52 327.69 L517.17 327.81 L517.64 327.89 L517.98 327.93 L518.19 327.94 L518.33 327.94 L518.40 327.93 L518.45 327.91 L518.49 327.89 L518.57 327.89 L518.70 327.90" stroke="#ff00ff" stroke-width="4.8" stroke-dasharray="11.69 11.60 0.01 11.59 11.44 11.60 0.01 11.59 9.44 11.60 0.01 11.59 12.36 11.60 0.01 11.59 9.82 11.60 0.01 11.59 11.34 11.60 0.01 11.59 10.85 11.60 0.01 11.59 10.91 11.60 0.01 11.59 8.60 11.60 0.01 11.59 11.92 11.60 0.01 11.59 10.98 11.60 0.01 11.59 10.88 11.60 0.01 11.59 10.48 11.60 0.01 11.59 10.02 11.60 0.01 11.59 12.08 11.60 0.01 11.59 9.42 11.60 0.01 11.59 11.76 11.60 0.01 11.59 8.73 11.60 0.01 11.59 10.99 11.60 0.01 11.59 10.00 11.60 0.01 11.59 10.16 11.60 0.01 11.59 11.64 11.60 0.01 11.59 10.50 3000.00" stroke-linecap="round"/>
<path d="M73.00 334.44 L73.89 334.41 L74.79 334.38 L75.68 334.35 L76.57 334.32 L77.47 334.29 L78.36 334.26 L79.25 334.23 L80.15 334.20 L81.04 334.16 L81.93 334.13 L82.83 334.10 L83.72 334.07 L84.61 334.03 L85.50 334.00 L86.40 333.96 L87.29 333.93 L88.18 333.89 L89.08 333.86 L89.97 333.82 L90.86 333.78 L91.76 333.75 L92.65 333.71 L93.54 333.67 L94.44 333.63 L95.33 333.59 L96.22 333.55 L97.12 333.51 L98.01 333.46 L98.90 333.42 L99.80 333.38 L100.69 333.33 L101.58 333.29 L102.48 333.24 L103.37 333.20 L104.26 333.15 L105.15 333.10 L106.05 333.05 L106.94 333.00 L107.83 332.95 L108.73 332.90 L109.62 332.84 L110.51 332.79 L111.41 332.73 L112.30 332.67 L113.19 332.62 L114.09 332.56 L114.98 332.50 L115.87 332.43 L116.77 332.37 L117.66 332.31 L118.55 332.24 L119.45 332.17 L120.34 332.11 L121.23 332.03 L122.13 331.96 L123.02 331.89 L123.91 331.81 L124.80 331.74 L125.70 331.66 L126.59 331.58 L127.48 331.50 L128.38 331.42 L129.27 331.33 L130.16 331.24 L131.06 331.15 L131.95 331.06 L132.84 330.97 L133.74 330.88 L134.63 330.78 L135.52 330.68 L136.42 330.58 L137.31 330.48 L138.20 330.37 L139.10 330.26 L139.99 330.15 L140.88 330.04 L141.78 329.93 L142.67 329.81 L143.56 329.70 L144.45 329.58 L145.35 329.45 L146.24 329.33 L147.13 329.20 L148.03 329.07 L148.92 328.94 L149.81 328.81 L150.71 328.67 L151.60 328.54 L152.49 328.40 L153.39 328.25 L154.28 328.11 L155.17 327.96 L156.07 327.82 L156.96 327.67 L157.85 327.51 L158.75 327.36 L159.64 327.20 L160.53 327.05 L161.43 326.89 L162.32 326.72 L163.21 326.56 L164.11 326.39 L165.00 326.23 L165.89 326.06 L166.78 325.89 L167.68 325.72 L168.57 325.54 L169.46 325.37 L170.36 325.19 L171.25 325.01 L172.14 324.83 L173.04 324.65 L173.93 324.47 L174.82 324.29 L175.72 324.10 L176.61 323.91 L177.50 323.73 L178.40 323.54 L179.29 323.35 L180.18 323.16 L181.08 322.96 L181.97 322.77 L182.86 322.57 L183.76 322.38 L184.65 322.18 L185.54 321.98 L186.43 321.78 L187.33 321.58 L188.22 321.38 L189.11 321.17 L190.01 320.97 L190.90 320.76 L191.79 320.55 L192.69 320.34 L193.58 320.13 L194.47 319.91 L195.37 319.69 L196.26 319.48 L197.15 319.25 L198.05 319.03 L198.94 318.80 L199.83 318.58 L200.73 318.34 L201.62 318.11 L202.51 317.87 L203.41 317.63 L204.30 317.38 L205.19 317.13 L206.08 316.88 L206.98 316.62 L207.87 316.36 L208.76 316.09 L209.66 315.82 L210.55 315.54 L211.44 315.25 L212.34 314.96 L213.23 314.67 L214.12 314.36 L215.02 314.05 L215.91 313.74 L216.80 313.41 L217.70 313.08 L218.59 312.73 L219.48 312.38 L220.38 312.02 L221.27 311.65 L222.16 311.27 L223.06 310.88 L223.95 310.48 L224.84 310.06 L225.73 309.63 L226.63 309.19 L227.52 308.74 L228.41 308.27 L229.31 307.79 L230.20 307.30 L231.09 306.78 L231.99 306.25 L232.88 305.71 L233.77 305.15 L234.67 304.56 L235.56 303.96 L236.45 303.34 L237.35 302.70 L238.24 302.04 L239.13 301.35 L240.03 300.64 L240.92 299.91 L241.81 299.15 L242.71 298.37 L243.60 297.55 L244.49 296.71 L245.38 295.84 L246.28 294.94 L247.17 294.01 L248.06 293.04 L248.96 292.04 L249.85 291.00 L250.74 289.93 L251.64 288.81 L252.53 287.66 L253.42 286.46 L254.32 285.22 L255.21 283.93 L256.10 282.59 L257.00 281.20 L257.89 279.76 L258.78 278.27 L259.68 276.72 L260.57 275.10 L261.46 273.43 L262.36 271.69 L263.25 269.88 L264.14 268.00 L265.04 266.05 L265.93 264.02 L266.82 261.90 L267.71 259.71 L268.61 257.42 L269.50 255.04 L270.39 252.56 L271.29 249.99 L272.18 247.31 L273.07 244.51 L273.97 241.61 L274.86 238.58 L275.75 235.43 L276.65 232.15 L277.54 228.73 L278.43 225.17 L279.33 221.47 L280.22 217.61 L281.11 213.60 L282.01 209.43 L282.90 205.09 L283.79 200.57 L284.69 195.88 L285.58 191.01 L286.47 185.96 L287.36 180.71 L288.26 175.28 L289.15 169.66 L290.04 163.84 L290.94 157.84 L291.83 151.65 L292.72 145.29 L293.62 138.75 L294.51 132.04 L295.40 125.19 L296.30 118.21 L297.19 111.11 L298.08 103.92 L298.98 96.68 L299.87 89.40 L300.76 82.13 L301.66 74.91 L302.55 67.78 L303.44 60.79 L304.34 53.99 L305.23 47.45 L306.12 41.22 L307.01 35.35 L307.91 29.92 L308.80 24.98 L309.69 20.58 L310.59 16.78 L311.48 13.63 L312.37 11.16 L313.27 9.41 L314.16 8.41 L315.05 8.17 L315.95 8.69 L316.84 9.96 L317.73 11.97 L318.63 14.69 L319.52 18.09 L320.41 22.12 L321.31 26.73 L322.20 31.86 L323.09 37.47 L323.99 43.48 L324.88 49.85 L325.77 56.50 L326.66 63.39 L327.56 70.45 L328.45 77.64 L329.34 84.91 L330.24 92.21 L331.13 99.51 L332.02 106.76 L332.92 113.94 L333.81 121.03 L334.70 128.00 L335.60 134.82 L336.49 141.50 L337.38 148.01 L338.28 154.34 L339.17 160.49 L340.06 166.46 L340.96 172.24 L341.85 177.83 L342.74 183.22 L343.64 188.43 L344.53 193.46 L345.42 198.30 L346.32 202.96 L347.21 207.44 L348.10 211.76 L348.99 215.91 L349.89 219.91 L350.78 223.74 L351.67 227.43 L352.57 230.98 L353.46 234.39 L354.35 237.66 L355.25 240.81 L356.14 243.83 L357.03 246.74 L357.93 249.53 L358.82 252.22 L359.71 254.81 L360.61 257.29 L361.50 259.68 L362.39 261.98 L363.29 264.20 L364.18 266.33 L365.07 268.38 L365.97 270.36 L366.86 272.26 L367.75 274.09 L368.64 275.86 L369.54 277.57 L370.43 279.21 L371.32 280.79 L372.22 282.32 L373.11 283.80 L374.00 285.22 L374.90 286.60 L375.79 287.93 L376.68 289.21 L377.58 290.46 L378.47 291.66 L379.36 292.82 L380.26 293.94 L381.15 295.02 L382.04 296.07 L382.94 297.09 L383.83 298.07 L384.72 299.03 L385.62 299.95 L386.51 300.84 L387.40 301.71 L388.29 302.55 L389.19 303.36 L390.08 304.15 L390.97 304.92 L391.87 305.66 L392.76 306.38 L393.65 307.08 L394.55 307.76 L395.44 308.41 L396.33 309.05 L397.23 309.67 L398.12 310.27 L399.01 310.86 L399.91 311.43 L400.80 311.98 L401.69 312.52 L402.59 313.04 L403.48 313.54 L404.37 314.04 L405.27 314.51 L406.16 314.98 L407.05 315.43 L407.94 315.87 L408.84 316.30 L409.73 316.72 L410.62 317.12 L411.52 317.52 L412.41 317.90 L413.30 318.27 L414.20 318.63 L415.09 318.99 L415.98 319.33 L416.88 319.66 L417.77 319.99 L418.66 320.31 L419.56 320.62 L420.45 320.92 L421.34 321.21 L422.24 321.49 L423.13 321.77 L424.02 322.04 L424.92 322.30 L425.81 322.56 L426.70 322.81 L427.59 323.05 L428.49 323.29 L429.38 323.52 L430.27 323.74 L431.17 323.96 L432.06 324.18 L432.95 324.38 L433.85 324.59 L434.74 324.79 L435.63 324.98 L436.53 325.17 L437.42 325.35 L438.31 325.53 L439.21 325.70 L440.10 325.87 L440.99 326.04 L441.89 326.20 L442.78 326.36 L443.67 326.51 L444.57 326.66 L445.46 326.81 L446.35 326.96 L447.25 327.10 L448.14 327.23 L449.03 327.37 L449.92 327.50 L450.82 327.63 L451.71 327.75 L452.60 327.87 L453.50 327.99 L454.39 328.11 L455.28 328.23 L456.18 328.34 L457.07 328.45 L457.96 328.55 L458.86 328.66 L459.75 328.76 L460.64 328.86 L461.54 328.96 L462.43 329.06 L463.32 329.16 L464.22 329.25 L465.11 329.34 L466.00 329.43 L466.90 329.52 L467.79 329.61 L468.68 329.69 L469.57 329.77 L470.47 329.86 L471.36 329.94 L472.25 330.02 L473.15 330.10 L474.04 330.17 L474.93 330.25 L475.83 330.32 L476.72 330.40 L477.61 330.47 L478.51 330.54 L479.40 330.61 L480.29 330.68 L481.19 330.75 L482.08 330.81 L482.97 330.88 L483.87 330.94 L484.76 331.01 L485.65 331.07 L486.55 331.14 L487.44 331.20 L488.33 331.26 L489.22 331.32 L490.12 331.38 L491.01 331.44 L491.90 331.50 L492.80 331.55 L493.69 331.61 L494.58 331.67 L495.48 331.72 L496.37 331.78 L497.26 331.83 L498.16 331.88 L499.05 331.94 L499.94 331.99 L500.84 332.04 L501.73 332.09 L502.62 332.14 L503.52 332.19 L504.41 332.24 L505.30 332.29 L506.20 332.34 L507.09 332.39 L507.98 332.44 L508.87 332.49 L509.77 332.53 L510.66 332.58 L511.55 332.62 L512.45 332.67 L513.34 332.72 L514.23 332.76 L515.13 332.80 L516.02 332.85 L516.91 332.89 L517.81 332.93 L518.70 332.98" stroke="#000" stroke-width="4.7" stroke-linecap="butt"/>
</g>
<!-- legend (on top) -->
<rect x="87.4" y="14.4" width="189.7" height="94.7" fill="#fff" stroke="#707070" stroke-width="1"/>
<clipPath id="lc"><rect x="88" y="15" width="49" height="93"/></clipPath>
<g fill="none" stroke-linecap="round" clip-path="url(#lc)">
<path d="M92 26.1 H142" stroke="#ff0000" stroke-width="4.6" stroke-dasharray="6.4 12.9"/>
<path d="M91.7 50 H132" stroke="#0000ff" stroke-width="4.3" stroke-dasharray="0.01 7.6"/>
<circle cx="135" cy="50" r="2.15" fill="#0000ff" stroke="none"/>
<path d="M92 74.1 H142" stroke="#ff00ff" stroke-width="4.6" stroke-dasharray="12.8 10.4 0.01 10.4"/>
<path d="M92.2 98 H134.6" stroke="#000" stroke-width="5.2"/>
</g>
<text transform="translate(139.60 31.70) scale(1.0500 1)" text-anchor="start" class="lg">Design 1</text>
<text transform="translate(139.60 55.80) scale(1.0500 1)" text-anchor="start" class="lg">Design 2</text>
<text transform="translate(139.60 79.90) scale(1.0500 1)" text-anchor="start" class="lg">Design 3</text>
<text transform="translate(139.60 104.00) scale(1.0500 1)" text-anchor="start" class="lg">Proposed design</text>
<!-- axes -->
<g stroke="#000" stroke-width="3.1" fill="none" stroke-linecap="round"><line x1="73.0" y1="276.92" x2="80.7" y2="276.92"/><line x1="73.0" y1="209.84" x2="80.7" y2="209.84"/><line x1="73.0" y1="142.76" x2="80.7" y2="142.76"/><line x1="73.0" y1="75.68" x2="80.7" y2="75.68"/><line x1="73.0" y1="310.46" x2="76.6" y2="310.46"/><line x1="73.0" y1="243.38" x2="76.6" y2="243.38"/><line x1="73.0" y1="176.30" x2="76.6" y2="176.30"/><line x1="73.0" y1="109.22" x2="76.6" y2="109.22"/><line x1="73.0" y1="42.14" x2="76.6" y2="42.14"/><line x1="295.85" y1="344.0" x2="295.85" y2="336.8"/><line x1="184.43" y1="344.0" x2="184.43" y2="340.4"/><line x1="407.28" y1="344.0" x2="407.28" y2="340.4"/></g>
<rect x="73.0" y="8.6" width="445.70000000000005" height="335.4" fill="none" stroke="#000" stroke-width="3.3" stroke-linejoin="round"/>
<text transform="translate(64.40 349.20) scale(1.0200 1)" text-anchor="end" class="tk">0.0</text><text transform="translate(64.40 282.12) scale(1.0200 1)" text-anchor="end" class="tk">0.2</text><text transform="translate(64.40 215.04) scale(1.0200 1)" text-anchor="end" class="tk">0.4</text><text transform="translate(64.40 147.96) scale(1.0200 1)" text-anchor="end" class="tk">0.6</text><text transform="translate(64.40 80.88) scale(1.0200 1)" text-anchor="end" class="tk">0.8</text><text transform="translate(64.40 12.90) scale(1.0200 1)" text-anchor="end" class="tk">1.0</text>
<text transform="translate(72.80 366.20) scale(1.0300 1)" text-anchor="middle" class="tk">27</text><text transform="translate(295.65 366.20) scale(1.0300 1)" text-anchor="middle" class="tk">28</text><text transform="translate(518.50 366.20) scale(1.0300 1)" text-anchor="middle" class="tk">29</text>
<text transform="translate(296.00 400.30) scale(1.0170 1)" text-anchor="middle" class="ax">Frequency (GHz)</text>
<text transform="translate(19.30 180.00) rotate(-90) scale(1.0340 1)" text-anchor="middle" class="ax">Absorption</text>
<!-- right panel -->
<rect x="529.2" y="10.1" width="79.7" height="330.6" fill="#e7e7e7"/>
<g fill="none" stroke="#4a4a4a" stroke-width="0.75" stroke-opacity="0.42"><polygon points="553.9,13.6 605.4,22.4 605.9,79.8 553.9,71.0"/><line x1="534.1" y1="23.6" x2="553.9" y2="13.6"/><line x1="588.3" y1="33.1" x2="605.4" y2="22.4"/><line x1="588.4" y1="92.0" x2="605.9" y2="79.8"/><line x1="534.5" y1="80.3" x2="553.9" y2="71.0"/><polygon points="534.1,23.6 588.3,33.1 588.4,92.0 534.5,80.3"/></g><polygon points="544.0,17.8 598.4,27.4 598.4,29.0 544.0,19.5" fill="#c8cc30"/><polygon points="543.4,18.5 598.5,28.1 598.3,86.2 543.5,75.1" fill="#26f2f2"/><line x1="544.4" y1="18.2" x2="597.6" y2="27.7" stroke="#4a5a30" stroke-opacity="0.8" stroke-width="0.9" stroke-dasharray="1.5 1.5"/><line x1="598.1" y1="29.0" x2="597.9" y2="85.5" stroke="#1aa8b4" stroke-opacity="0.8" stroke-width="1.1"/><line x1="598.5" y1="77.0" x2="598.5" y2="85.0" stroke="#d4d838" stroke-width="0.9"/><line x1="598.7" y1="53.0" x2="598.7" y2="60.0" stroke="#d4d838" stroke-opacity="0.7" stroke-width="0.8"/><g fill="none" stroke="#0c8890" stroke-width="0.8" stroke-opacity="0.55"><polyline points="543.4,25.2 588.3,33.1 588.3,83.0"/><line x1="588.3" y1="33.1" x2="597.6" y2="28.0"/></g><ellipse cx="569.5" cy="52.7" rx="6.6" ry="7.3" fill="none" stroke="#86ae34" stroke-width="1.5"/><ellipse cx="569.5" cy="52.7" rx="6.6" ry="7.3" fill="none" stroke="#d8dc30" stroke-opacity="0.55" stroke-width="0.8" stroke-dasharray="1.2 2.2"/><g fill="none" stroke="#4a4a4a" stroke-width="0.75" stroke-opacity="0.42"><polygon points="553.5,101.7 602.8,110.3 602.4,162.8 553.5,154.2"/><line x1="535.6" y1="110.7" x2="553.5" y2="101.7"/><line x1="585.9" y1="119.5" x2="602.8" y2="110.3"/><line x1="585.7" y1="174.9" x2="602.4" y2="162.8"/><line x1="535.9" y1="164.0" x2="553.5" y2="154.2"/><polygon points="535.6,110.7 585.9,119.5 585.7,174.9 535.9,164.0"/></g><polygon points="544.5,105.5 595.5,114.3 595.5,115.9 544.5,107.2" fill="#c8cc30"/><polygon points="543.9,106.2 595.6,115.1 595.4,169.2 543.9,159.5" fill="#26f2f2"/><line x1="544.9" y1="105.9" x2="594.7" y2="114.6" stroke="#4a5a30" stroke-opacity="0.8" stroke-width="0.9" stroke-dasharray="1.5 1.5"/><line x1="595.2" y1="115.9" x2="595.0" y2="168.5" stroke="#1aa8b4" stroke-opacity="0.8" stroke-width="1.1"/><line x1="595.6" y1="160.0" x2="595.6" y2="168.0" stroke="#d4d838" stroke-width="0.9"/><line x1="595.8" y1="137.9" x2="595.8" y2="144.9" stroke="#d4d838" stroke-opacity="0.7" stroke-width="0.8"/><g fill="none" stroke="#0c8890" stroke-width="0.8" stroke-opacity="0.55"><polyline points="543.9,112.2 585.9,119.5 585.9,166.7"/><line x1="585.9" y1="119.5" x2="594.7" y2="114.9"/></g><ellipse cx="568.4" cy="137.9" rx="6.2" ry="6.9" fill="none" stroke="#86ae34" stroke-width="1.5"/><ellipse cx="568.4" cy="137.9" rx="6.2" ry="6.9" fill="none" stroke="#d8dc30" stroke-opacity="0.55" stroke-width="0.8" stroke-dasharray="1.2 2.2"/><ellipse cx="563.9" cy="137.0" rx="2.0" ry="1.6" fill="#f6e814"/><ellipse cx="572.8" cy="139.3" rx="2.0" ry="1.6" fill="#f6e814"/><g fill="none" stroke="#4a4a4a" stroke-width="0.75" stroke-opacity="0.42"><polygon points="552.5,184.7 604.6,193.9 604.1,250.9 552.5,241.7"/><line x1="532.3" y1="194.6" x2="552.5" y2="184.7"/><line x1="586.6" y1="204.0" x2="604.6" y2="193.9"/><line x1="586.2" y1="263.2" x2="604.1" y2="250.9"/><line x1="533.0" y1="251.2" x2="552.5" y2="241.7"/><polygon points="532.3,194.6 586.6,204.0 586.2,263.2 533.0,251.2"/></g><polygon points="542.0,188.8 596.6,198.4 596.6,200.0 542.0,190.5" fill="#c8cc30"/><polygon points="541.4,189.5 596.7,199.2 596.3,257.1 541.4,246.5" fill="#26f2f2"/><line x1="542.4" y1="189.2" x2="595.8" y2="198.7" stroke="#4a5a30" stroke-opacity="0.8" stroke-width="0.9" stroke-dasharray="1.5 1.5"/><line x1="596.3" y1="200.0" x2="595.9" y2="256.5" stroke="#1aa8b4" stroke-opacity="0.8" stroke-width="1.1"/><line x1="596.5" y1="248.0" x2="596.5" y2="256.0" stroke="#d4d838" stroke-width="0.9"/><line x1="596.9" y1="224.0" x2="596.9" y2="231.0" stroke="#d4d838" stroke-opacity="0.7" stroke-width="0.8"/><g fill="none" stroke="#0c8890" stroke-width="0.8" stroke-opacity="0.55"><polyline points="541.4,196.2 586.6,204.0 586.6,254.4"/><line x1="586.6" y1="204.0" x2="595.8" y2="199.0"/></g><ellipse cx="567.5" cy="223.8" rx="16.2" ry="18.0" fill="none" stroke="#86ae34" stroke-width="1.5"/><ellipse cx="567.5" cy="223.8" rx="16.2" ry="18.0" fill="none" stroke="#d8dc30" stroke-opacity="0.55" stroke-width="0.8" stroke-dasharray="1.2 2.2"/><ellipse cx="567.6" cy="223.9" rx="7.0" ry="7.4" fill="none" stroke="#86ae34" stroke-width="1.5"/><ellipse cx="567.6" cy="223.9" rx="7.0" ry="7.4" fill="none" stroke="#d8dc30" stroke-opacity="0.55" stroke-width="0.8" stroke-dasharray="1.2 2.2"/><ellipse cx="562.8" cy="222.8" rx="2.0" ry="1.6" fill="#f6e814"/><ellipse cx="572.1" cy="224.6" rx="2.0" ry="1.6" fill="#f6e814"/><g fill="none" stroke="#4a4a4a" stroke-width="0.75" stroke-opacity="0.42"><polygon points="557.4,269.1 604.0,277.3 603.3,327.0 557.4,318.8"/><line x1="539.6" y1="277.9" x2="557.4" y2="269.1"/><line x1="588.3" y1="286.3" x2="604.0" y2="277.3"/><line x1="587.9" y1="338.2" x2="603.3" y2="327.0"/><line x1="540.6" y1="327.8" x2="557.4" y2="318.8"/><polygon points="539.6,277.9 588.3,286.3 587.9,338.2 540.6,327.8"/></g><polygon points="548.7,272.8 596.7,281.3 596.7,282.9 548.7,274.5" fill="#c8cc30"/><polygon points="548.1,273.5 596.8,282.0 596.5,332.8 548.1,323.3" fill="#26f2f2"/><line x1="549.1" y1="273.2" x2="595.9" y2="281.6" stroke="#4a5a30" stroke-opacity="0.8" stroke-width="0.9" stroke-dasharray="1.5 1.5"/><line x1="596.4" y1="282.9" x2="596.1" y2="332.2" stroke="#1aa8b4" stroke-opacity="0.8" stroke-width="1.1"/><line x1="596.7" y1="323.7" x2="596.7" y2="331.7" stroke="#d4d838" stroke-width="0.9"/><line x1="597.0" y1="303.3" x2="597.0" y2="310.3" stroke="#d4d838" stroke-opacity="0.7" stroke-width="0.8"/><g fill="none" stroke="#0c8890" stroke-width="0.8" stroke-opacity="0.55"><polyline points="548.1,279.4 588.3,286.3 588.3,330.4"/><line x1="588.3" y1="286.3" x2="595.9" y2="281.9"/></g><ellipse cx="571.3" cy="303.2" rx="14.0" ry="15.6" fill="none" stroke="#86ae34" stroke-width="1.5"/><ellipse cx="571.3" cy="303.2" rx="14.0" ry="15.6" fill="none" stroke="#d8dc30" stroke-opacity="0.55" stroke-width="0.8" stroke-dasharray="1.2 2.2"/><ellipse cx="571.2" cy="303.0" rx="6.0" ry="6.4" fill="none" stroke="#86ae34" stroke-width="1.5"/><ellipse cx="571.2" cy="303.0" rx="6.0" ry="6.4" fill="none" stroke="#d8dc30" stroke-opacity="0.55" stroke-width="0.8" stroke-dasharray="1.2 2.2"/><ellipse cx="566.8" cy="302.2" rx="2.0" ry="1.6" fill="#f6e814"/><ellipse cx="575.7" cy="304.4" rx="2.0" ry="1.6" fill="#f6e814"/><path d="M571.3 287.6 V296.6 M571.3 309.4 V318.8" stroke="#86ae34" stroke-width="1.3" fill="none"/>
<text transform="translate(615.60 56.90)" text-anchor="start" class="rl">Design 1</text>
<text transform="translate(617.80 140.50)" text-anchor="start" class="rl">Design 2</text>
<text transform="translate(618.40 228.60)" text-anchor="start" class="rl">Design 3</text>
<text transform="translate(618.20 313.10)" text-anchor="start" class="rl">Proposed</text>
<text transform="translate(618.20 333.10)" text-anchor="start" class="rl">design</text>
</svg>
</body></html>
